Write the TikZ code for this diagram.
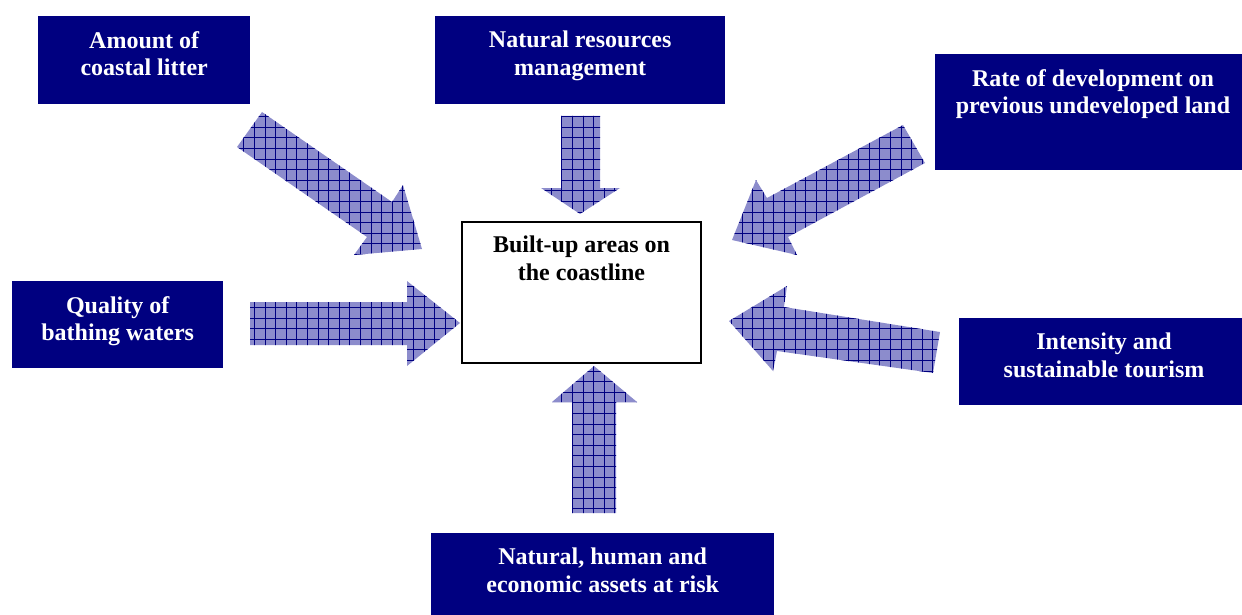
\documentclass[tikz,border=0pt]{standalone}
\usepackage{fontspec}
\setmainfont{Liberation Serif}
\definecolor{navy}{RGB}{0,0,128}
\definecolor{arrowfill}{RGB}{140,140,204}
\tikzset{
  box/.style={fill=navy, draw=none, inner sep=0pt, anchor=north west},
  hub/.style={fill=white, draw=black, line width=2pt, inner sep=0pt, anchor=north west},
  boxtext/.style={text=white, font=\bfseries\fontsize{24}{27.5}\selectfont, align=center, inner sep=0pt, anchor=north},
  hubtext/.style={boxtext, text=black},
  gridline/.style={draw=navy, line width=0.8pt},
}
\newcommand{\hatcharrow}[1]{%
  \begin{scope}
    \fill[arrowfill] #1;
    \clip #1;
    \foreach \i in {0,...,118} {\draw[gridline] (\i*10.6,0) -- (\i*10.6,615);}
    \foreach \j in {0,...,59} {\draw[gridline] (0,\j*10.6) -- (1242,\j*10.6);}
  \end{scope}}
\begin{document}
\begin{tikzpicture}[x=1pt,y=-1pt]
\useasboundingbox (0,0) rectangle (1242,615);
% boxes
\node[box, minimum width=212pt, minimum height=88pt] (litter) at (38,16) {};
\node[box, minimum width=290pt, minimum height=88pt] (resources) at (435,16) {};
\node[box, minimum width=307pt, minimum height=116pt] (rate) at (935,54) {};
\node[box, minimum width=211pt, minimum height=87pt] (quality) at (12,281) {};
\node[box, minimum width=283pt, minimum height=87pt] (intensity) at (959,318) {};
\node[box, minimum width=343pt, minimum height=82pt] (assets) at (431,533) {};
\node[hub, minimum width=239pt, minimum height=141pt] (hub) at (461,221) {};
% texts
\node[boxtext] (litterT) at ([yshift=-15pt]litter.north) {Amount of\\coastal litter};
\node[boxtext] (resourcesT) at ([yshift=-15pt]resources.north) {Natural resources\\management};
\node[boxtext] (rateT) at (1093,69) {Rate of development on\\previous undeveloped land};
\node[boxtext] (qualityT) at ([yshift=-15pt]quality.north) {Quality of\\bathing waters};
\node[boxtext] (intensityT) at (1104,333) {Intensity and\\sustainable tourism};
\node[boxtext] (assetsT) at ([yshift=-15pt]assets.north) {Natural, human and\\economic assets at risk};
\node[hubtext] (hubT) at ([yshift=-15pt]hub.north) {Built-up areas on\\the coastline};
% block arrows
\hatcharrow{(262,112) -- (392,202) -- (403,185) -- (422,249) -- (354,255) -- (367,237) -- (237,147) -- cycle}
\hatcharrow{(561,116) -- (600,116) -- (600,188) -- (620,188) -- (580,214) -- (541,188) -- (561,188) -- cycle}
\hatcharrow{(903,125) -- (925,163) -- (788,237) -- (797,255) -- (732,240) -- (756,180) -- (767,198) -- cycle}
\hatcharrow{(250,302) -- (407,302) -- (407,281) -- (460,323) -- (407,366) -- (407,345) -- (250,345) -- cycle}
\hatcharrow{(729,321) -- (787,286) -- (784,307) -- (940,332) -- (933,373) -- (777,351) -- (773,371) -- cycle}
\hatcharrow{(594,366) -- (637,402) -- (616,402) -- (616,513) -- (572,513) -- (572,402) -- (552,402) -- cycle}
\end{tikzpicture}
\end{document}
